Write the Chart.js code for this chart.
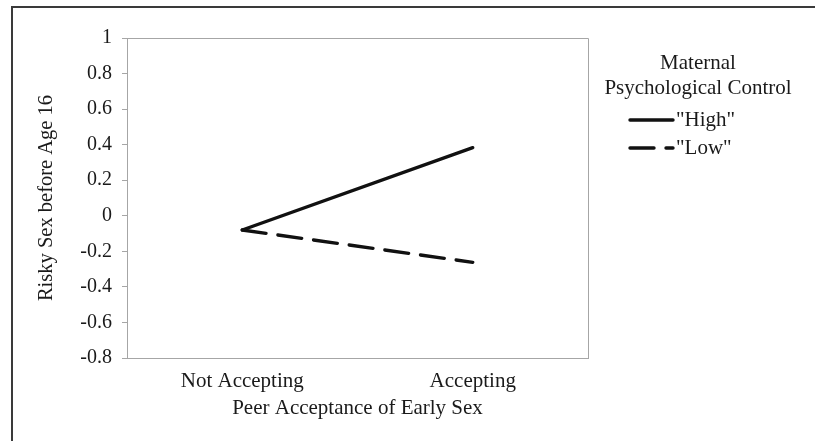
<!DOCTYPE html>
<html>
<head>
<meta charset="utf-8">
<script src="https://cdn.jsdelivr.net/npm/chart.js@4.4.1/dist/chart.umd.min.js"></script>
<style>
  html, body { margin: 0; padding: 0; background: #fff; }
  #wrap { position: relative; width: 815px; height: 441px; overflow: hidden; }
  #frame { position: absolute; left: 11px; top: 6px; right: -10px; bottom: -10px;
           border-top: 2px solid #3a3a3a; border-left: 2px solid #3a3a3a; pointer-events: none; }
  canvas { position: absolute; left: 0; top: 0; }
</style>
</head>
<body>
<div id="wrap">
  <canvas id="c" width="815" height="441"></canvas>
  <div id="frame"></div>
</div>
<script>
// ---- data ----
const categories = ["Not Accepting", "Accepting"];
const highValues = [-0.08, 0.383];
const lowValues = [-0.08, -0.262];
const seriesLabels = ['"High"', '"Low"'];
const legendTitle = ["Maternal", "Psychological Control"];
const xTitle = "Peer Acceptance of Early Sex";
const yTitle = "Risky Sex before Age 16";
const yMin = -0.8, yMax = 1, yStep = 0.2;

const FONT = "'Liberation Serif', 'Times New Roman', serif";
const TXT = "#1a1a1a";
const AXIS = "#a6a6a6";

const areaBorder = {
  id: 'areaBorder',
  beforeDatasetsDraw(chart) {
    const {ctx, chartArea: a} = chart;
    ctx.save();
    ctx.strokeStyle = AXIS;
    ctx.lineWidth = 1;
    ctx.beginPath();
    ctx.moveTo(a.left, a.top + 0.5);
    ctx.lineTo(a.right + 0.5, a.top + 0.5);
    ctx.lineTo(a.right + 0.5, a.bottom);
    ctx.stroke();
    ctx.restore();
  }
};

const customLegend = {
  id: 'customLegend',
  afterDraw(chart) {
    const {ctx} = chart;
    ctx.save();
    ctx.fillStyle = TXT;
    ctx.font = "21px " + FONT;
    ctx.textAlign = "center";
    ctx.textBaseline = "middle";
    const cx = 698;
    ctx.fillText(legendTitle[0], cx, 63);
    ctx.fillText(legendTitle[1], cx, 88);
    chart.data.datasets.forEach((ds, i) => {
      const y = 120 + i * 28;
      ctx.strokeStyle = ds.borderColor;
      ctx.lineWidth = ds.borderWidth;
      ctx.lineCap = 'round';
      ctx.setLineDash(ds.borderDash || []);
      ctx.beginPath();
      ctx.moveTo(630, y);
      ctx.lineTo(673, y);
      ctx.stroke();
      ctx.setLineDash([]);
      ctx.textAlign = "left";
      ctx.fillText(ds.label, 676, y);
    });
    ctx.restore();
  }
};

new Chart(document.getElementById('c'), {
  type: 'line',
  data: {
    labels: categories,
    datasets: [
      { label: seriesLabels[0], data: highValues, borderColor: '#111', borderWidth: 3.4,
        pointRadius: 0, fill: false, tension: 0, borderCapStyle: 'round' },
      { label: seriesLabels[1], data: lowValues, borderColor: '#111', borderWidth: 3.4,
        borderDash: [24, 12], pointRadius: 0, fill: false, tension: 0, borderCapStyle: 'round' }
    ]
  },
  options: {
    responsive: false,
    animation: false,
    devicePixelRatio: 1,
    layout: { padding: { left: 0, right: 227, top: 38, bottom: 0 } },
    plugins: { legend: { display: false }, tooltip: { enabled: false } },
    scales: {
      x: {
        offset: true,
        grid: { display: true, drawOnChartArea: false, drawTicks: false },
        border: { display: true, color: AXIS, width: 1 },
        ticks: { color: TXT, font: { family: FONT, size: 21 }, padding: 11, maxRotation: 0 },
        title: { display: true, text: xTitle, color: TXT, font: { family: FONT, size: 21 },
                 padding: { top: 0, bottom: 20 } },
        afterFit(s) { s.height = 83; }
      },
      y: {
        min: yMin, max: yMax,
        grid: { display: true, drawOnChartArea: false, drawTicks: true, tickLength: 5, color: AXIS },
        border: { display: true, color: AXIS, width: 1 },
        ticks: { stepSize: yStep, color: TXT, font: { family: FONT, size: 20 }, padding: 10,
                 callback: v => String(Math.round(v * 10) / 10) },
        title: { display: true, text: yTitle, color: TXT, font: { family: FONT, size: 20.5 },
                 padding: { top: 34, bottom: 0 } },
        afterFit(s) { s.width = 127; }
      }
    }
  },
  plugins: [areaBorder, customLegend]
});
</script>
</body>
</html>
